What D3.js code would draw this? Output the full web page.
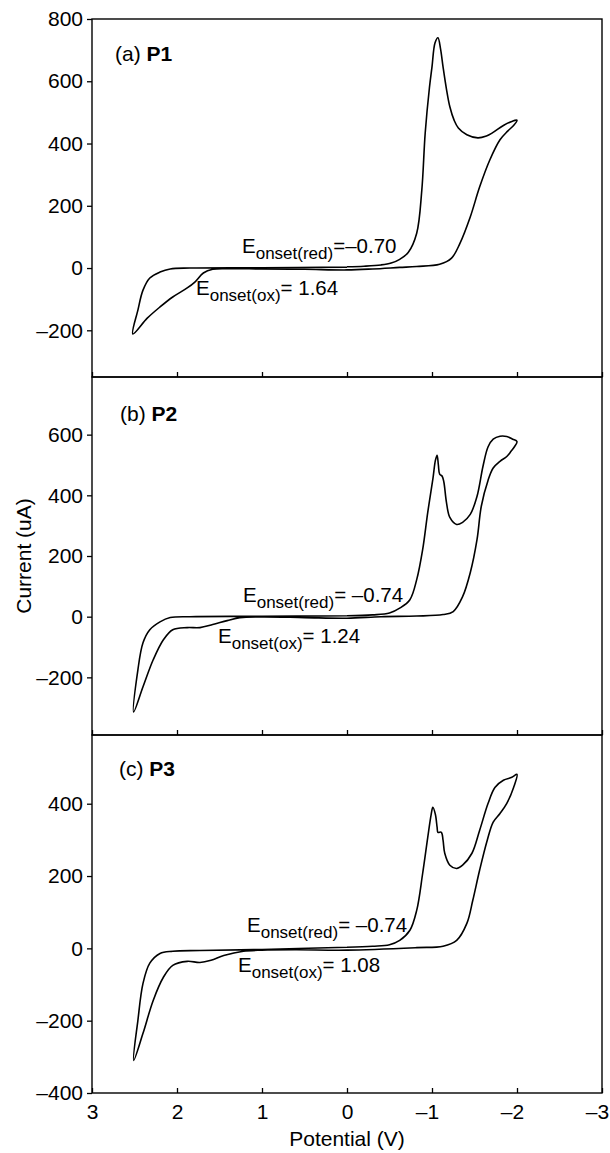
<!DOCTYPE html>
<html>
<head>
<meta charset="utf-8">
<script src="https://cdn.jsdelivr.net/npm/d3@7"></script>
<style>
  body { margin: 0; background: #fff; }
  text { font-family: "Liberation Sans", Arial, Helvetica, sans-serif; fill: #000; }
</style>
</head>
<body>
<div class="chart"></div>
<script>
// ---- data (potential V, current uA) ----
const xTicks = [3, 2, 1, 0, -1, -2, -3];

const p1Curve = [
  [0, 4], [-0.2, 6], [-0.4, 10], [-0.52, 16], [-0.62, 28], [-0.72, 50], [-0.82, 112], [-0.88, 250],
  [-0.92, 434], [-0.97, 580], [-1.0, 646], [-1.035, 723], [-1.07, 740], [-1.1, 705], [-1.13, 646],
  [-1.17, 575], [-1.21, 518], [-1.26, 475], [-1.31, 450], [-1.41, 428], [-1.54, 418], [-1.64, 424],
  [-1.71, 434], [-1.84, 458], [-1.93, 470], [-2.0, 475],
  [-1.96, 458], [-1.89, 440], [-1.8, 412], [-1.68, 347], [-1.56, 260], [-1.45, 164], [-1.33, 80],
  [-1.23, 32], [-1.09, 12], [-0.82, 5], [-0.62, 2], [-0.3, -3], [0, -6], [0.5, -4], [1.0, -3],
  [1.4, -2], [1.58, -4], [1.69, -16], [1.79, -45], [1.88, -64], [2.05, -93], [2.2, -125],
  [2.35, -161], [2.52, -212],
  [2.46, -135], [2.4, -71], [2.32, -32], [2.2, -13], [2.08, -3], [1.85, 0], [1.0, 1], [0, 3]
];

const p2Curve = [
  [0, 3], [-0.3, 6], [-0.5, 12], [-0.62, 28], [-0.74, 56], [-0.82, 122], [-0.89, 221], [-0.95, 344],
  [-1.01, 453], [-1.04, 515], [-1.06, 532], [-1.075, 500], [-1.09, 470], [-1.12, 463], [-1.14, 443],
  [-1.17, 377], [-1.21, 327], [-1.29, 304], [-1.36, 311], [-1.45, 337], [-1.53, 397], [-1.6, 496],
  [-1.66, 560], [-1.72, 585], [-1.8, 595], [-1.88, 594], [-1.95, 585], [-2.0, 577],
  [-1.97, 560], [-1.93, 545], [-1.88, 528], [-1.8, 512], [-1.72, 490], [-1.66, 450], [-1.58, 364],
  [-1.53, 255], [-1.45, 145], [-1.36, 66], [-1.25, 17], [-1.13, 7], [-0.82, 2], [-0.4, 0], [0, -5],
  [0.5, -3], [0.99, -1], [1.26, -3], [1.41, -13], [1.58, -26], [1.73, -36], [1.88, -36], [2.05, -43],
  [2.16, -76], [2.28, -142], [2.4, -231], [2.51, -314],
  [2.46, -175], [2.4, -86], [2.32, -43], [2.2, -17], [2.08, -3], [1.85, 0], [1.0, 1], [0, 3]
];

const p3Curve = [
  [0, 3], [-0.3, 6], [-0.5, 10], [-0.62, 22], [-0.74, 50], [-0.82, 105], [-0.89, 207], [-0.95, 307],
  [-0.99, 370], [-1.01, 390], [-1.04, 370], [-1.06, 335], [-1.07, 321], [-1.11, 321], [-1.13, 299],
  [-1.15, 263], [-1.21, 230], [-1.29, 221], [-1.36, 230], [-1.47, 263], [-1.56, 326], [-1.66, 401],
  [-1.74, 445], [-1.84, 465], [-1.94, 473], [-2.0, 481],
  [-1.96, 445], [-1.88, 401], [-1.8, 373], [-1.72, 349], [-1.65, 299], [-1.56, 216], [-1.48, 133],
  [-1.41, 69], [-1.29, 22], [-1.13, 6], [-0.82, 2], [0, -5], [0.6, -4], [1.0, -5], [1.22, -8],
  [1.45, -20], [1.6, -33], [1.73, -39], [1.88, -36], [2.05, -47], [2.16, -80], [2.28, -144],
  [2.4, -235], [2.51, -310],
  [2.46, -199], [2.4, -97], [2.32, -41], [2.2, -14], [2.05, -8], [1.73, -6], [1.0, -3], [0, 3]
];

const yDomains = [[-350, 800], [-390, 790], [-400, 590]];
const yTicks = [
  [-200, 0, 200, 400, 600, 800],
  [-200, 0, 200, 400, 600],
  [-400, -200, 0, 200, 400]
];
const panelTags = ['(a) ', '(b) ', '(c) '];
const panelNames = ['P1', 'P2', 'P3'];
const redLabels = ['=\u20130.70', '= \u20130.74', '= \u20130.74'];
const oxLabels = ['= 1.64', '= 1.24', '= 1.08'];
const curves = [p1Curve, p2Curve, p3Curve];

// ---- layout ----
const W = 610, H = 1153;
const left = 92, right = 602;
const panelTop = [19, 377, 735];
const panelH = 358;
const fs = 21;

// label positions inside each panel (pixel offsets from panel top)
const tagPos = [[115, 42], [120, 44], [119, 41]];
const redPos = [[242, 234], [243, 225], [247, 197]];
const oxPos = [[196, 276], [218, 266], [238, 237]];

const minus = s => String(s).replace('-', '\u2013');

let svg = d3.select('.chart')
  .append('svg')
  .attr('width', W)
  .attr('height', H);

let x = d3.scaleLinear()
  .domain([3, -3])
  .range([left, right]);

curves.forEach((data, i) => {
  let top = panelTop[i];
  let g = svg.append('g')
    .attr('class', 'panel')
    .attr('transform', `translate(0,${top})`);

  let y = d3.scaleLinear()
    .domain(yDomains[i])
    .range([panelH, 0]);

  // y 轴，刻度朝外
  let ya = g.append('g')
    .attr('transform', `translate(${left},0)`)
    .call(d3.axisLeft(y).tickValues(yTicks[i]).tickSize(5).tickPadding(4).tickFormat(minus));
  ya.select('.domain').remove();
  ya.selectAll('line').attr('stroke', '#000').attr('stroke-width', 1.3);
  ya.selectAll('text')
    .style('font-size', fs + 'px');

  // x 轴，刻度朝内
  let last = i === curves.length - 1;
  let xa = g.append('g')
    .attr('transform', `translate(0,${panelH})`)
    .call(d3.axisBottom(x).tickValues(xTicks).tickSize(-5).tickPadding(11)
      .tickFormat(last ? minus : ''));
  xa.select('.domain').remove();
  xa.selectAll('line').attr('stroke', '#000').attr('stroke-width', 1.3);
  xa.selectAll('text')
    .style('font-size', fs + 'px')
    .attr('dx', d => d < 0 ? -5 : 0);

  // 边框
  g.append('rect')
    .attr('x', left)
    .attr('y', 0)
    .attr('width', right - left)
    .attr('height', panelH)
    .attr('fill', 'none')
    .attr('stroke', '#000')
    .attr('stroke-width', 1.4);

  // CV 曲线
  let line = d3.line()
    .x(d => x(d[0]))
    .y(d => y(d[1]))
    .curve(d3.curveCatmullRom.alpha(0.5));

  g.append('path')
    .datum(data)
    .attr('d', line)
    .attr('fill', 'none')
    .attr('stroke', '#000')
    .attr('stroke-width', 1.6)
    .attr('stroke-linejoin', 'round');

  // 面板标签
  let tag = g.append('text')
    .attr('x', tagPos[i][0])
    .attr('y', tagPos[i][1])
    .style('font-size', fs + 'px');
  tag.append('tspan').text(panelTags[i]);
  tag.append('tspan').attr('font-weight', 'bold').text(panelNames[i]);

  // onset 标注
  let red = g.append('text')
    .attr('x', redPos[i][0])
    .attr('y', redPos[i][1])
    .style('font-size', '20.5px');
  red.append('tspan').text('E');
  red.append('tspan').attr('dy', 6).style('font-size', '17px').text('onset(red)');
  red.append('tspan').attr('dy', -6).text(redLabels[i]);

  let ox = g.append('text')
    .attr('x', oxPos[i][0])
    .attr('y', oxPos[i][1])
    .style('font-size', '20.5px');
  ox.append('tspan').text('E');
  ox.append('tspan').attr('dy', 6).style('font-size', '17px').text('onset(ox)');
  ox.append('tspan').attr('dy', -6).text(oxLabels[i]);
});

// 轴标题
svg.append('text')
  .attr('transform', `translate(31,${(panelTop[0] + panelTop[2] + panelH) / 2}) rotate(-90)`)
  .attr('text-anchor', 'middle')
  .style('font-size', fs + 'px')
  .text('Current (uA)');

svg.append('text')
  .attr('x', x(0))
  .attr('y', 1146)
  .attr('text-anchor', 'middle')
  .style('font-size', fs + 'px')
  .text('Potential (V)');
</script>
</body>
</html>
